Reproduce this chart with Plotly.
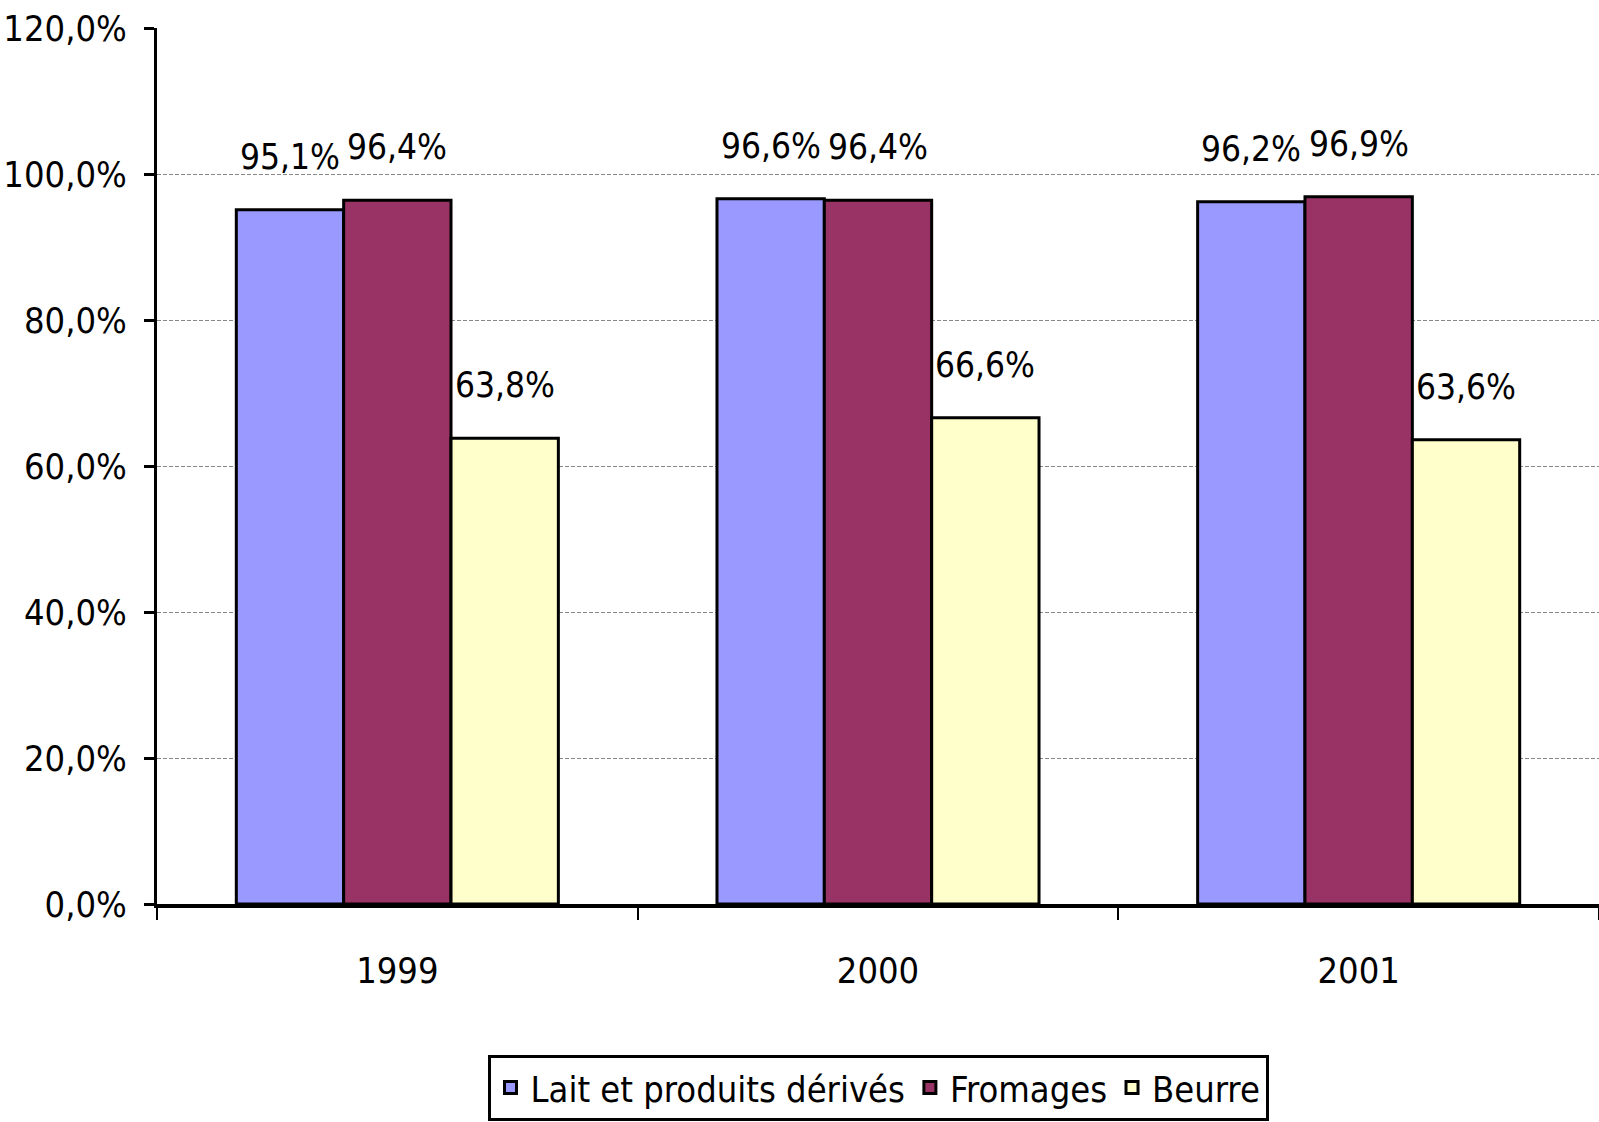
import plotly.graph_objects as go

years = ["1999", "2000", "2001"]
lait = [95.1, 96.6, 96.2]
fromages = [96.4, 96.4, 96.9]
beurre = [63.8, 66.6, 63.6]
series_names = ["Lait et produits dérivés", "Fromages", "Beurre"]
colors = ["#9999FF", "#993366", "#FFFFCC"]
y_ticks = [0, 20, 40, 60, 80, 100, 120]

FONT = "Liberation Sans Narrow, Arial Narrow, DejaVu Sans Condensed, sans-serif"
BARGAP = 0.33
W = (1 - BARGAP) / 3

fig = go.Figure()
all_series = [lait, fromages, beurre]
for name, vals, col in zip(series_names, all_series, colors):
    fig.add_trace(go.Bar(
        x=years, y=vals, name=name,
        marker=dict(color=col, line=dict(color="black", width=3)),
    ))

def fmt(v):
    return f"{v:.1f}".replace(".", ",") + "%"

for si, vals in enumerate(all_series):
    for ci, v in enumerate(vals):
        fig.add_annotation(
            x=ci + (si - 1) * W, y=v, xref="x", yref="y",
            text=fmt(v), showarrow=False, yanchor="bottom",
            yshift=31, font=dict(family=FONT, size=35, color="black"),
        )

fig.update_layout(
    width=1599, height=1122,
    margin=dict(l=157, r=0, t=28, b=218, autoexpand=False),
    paper_bgcolor="white", plot_bgcolor="white",
    barmode="group", bargap=BARGAP, bargroupgap=0,
    separators=", ",
    font=dict(family=FONT, size=36, color="black"),
    showlegend=True,
    legend=dict(
        orientation="h", x=0.5, xanchor="center", y=-0.172, yanchor="top",
        bordercolor="black", borderwidth=3, bgcolor="white",
        font=dict(family=FONT, size=36, color="black"),
        traceorder="normal",
    ),
)
fig.update_xaxes(
    type="category", range=[-0.5, 2.5], automargin=False,
    showline=True, linecolor="black", linewidth=4,
    ticks="outside", tickson="boundaries", ticklen=12, tickwidth=2, tickcolor="black",
    ticklabelstandoff=32, showgrid=False,
    tickfont=dict(family=FONT, size=36),
)
fig.update_yaxes(
    range=[0, 120], tickvals=y_ticks, ticktext=[fmt(t) for t in y_ticks],
    automargin=False,
    showline=True, linecolor="black", linewidth=3,
    ticks="outside", ticklen=10, tickwidth=3, tickcolor="black",
    showgrid=True, gridcolor="#888888", gridwidth=1, griddash="4px,2px",
    zeroline=False, ticklabelstandoff=10,
    tickfont=dict(family=FONT, size=36),
)
fig.write_html("out.html")
